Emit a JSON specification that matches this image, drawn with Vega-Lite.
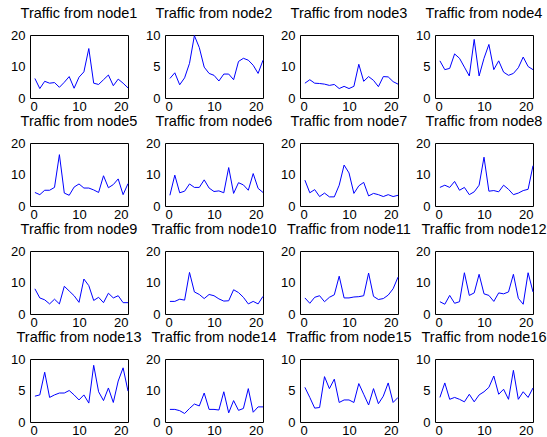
{
  "$schema": "https://vega.github.io/schema/vega-lite/v6.json",
  "background": "white",
  "padding": {"left": 10, "top": 5, "right": 5, "bottom": 0},
  "columns": 4,
  "spacing": {"row": 45, "column": 37},
  "bounds": "flush",
  "data": {"values": [
    {"n":1,"t":1,"v":6.2},{"n":1,"t":2,"v":3.0},{"n":1,"t":3,"v":5.3},{"n":1,"t":4,"v":4.7},{"n":1,"t":5,"v":4.9},{"n":1,"t":6,"v":3.4},{"n":1,"t":7,"v":5.0},{"n":1,"t":8,"v":6.8},{"n":1,"t":9,"v":3.1},{"n":1,"t":10,"v":6.6},{"n":1,"t":11,"v":8.3},{"n":1,"t":12,"v":15.7},{"n":1,"t":13,"v":4.7},{"n":1,"t":14,"v":4.3},{"n":1,"t":15,"v":5.8},{"n":1,"t":16,"v":7.3},{"n":1,"t":17,"v":3.9},{"n":1,"t":18,"v":6.0},{"n":1,"t":19,"v":4.7},{"n":1,"t":20,"v":3.2},
    {"n":2,"t":1,"v":3.1},{"n":2,"t":2,"v":4.0},{"n":2,"t":3,"v":2.1},{"n":2,"t":4,"v":3.2},{"n":2,"t":5,"v":5.5},{"n":2,"t":6,"v":9.9},{"n":2,"t":7,"v":8.0},{"n":2,"t":8,"v":4.9},{"n":2,"t":9,"v":3.9},{"n":2,"t":10,"v":3.6},{"n":2,"t":11,"v":2.7},{"n":2,"t":12,"v":3.8},{"n":2,"t":13,"v":3.8},{"n":2,"t":14,"v":2.9},{"n":2,"t":15,"v":5.8},{"n":2,"t":16,"v":6.3},{"n":2,"t":17,"v":6.0},{"n":2,"t":18,"v":5.2},{"n":2,"t":19,"v":3.9},{"n":2,"t":20,"v":6.0},
    {"n":3,"t":1,"v":4.7},{"n":3,"t":2,"v":5.8},{"n":3,"t":3,"v":4.7},{"n":3,"t":4,"v":4.6},{"n":3,"t":5,"v":4.4},{"n":3,"t":6,"v":4.0},{"n":3,"t":7,"v":4.3},{"n":3,"t":8,"v":3.0},{"n":3,"t":9,"v":3.7},{"n":3,"t":10,"v":3.0},{"n":3,"t":11,"v":3.7},{"n":3,"t":12,"v":10.7},{"n":3,"t":13,"v":5.3},{"n":3,"t":14,"v":6.8},{"n":3,"t":15,"v":5.6},{"n":3,"t":16,"v":3.6},{"n":3,"t":17,"v":6.8},{"n":3,"t":18,"v":6.7},{"n":3,"t":19,"v":5.2},{"n":3,"t":20,"v":4.4},
    {"n":4,"t":1,"v":5.9},{"n":4,"t":2,"v":4.5},{"n":4,"t":3,"v":4.7},{"n":4,"t":4,"v":7.0},{"n":4,"t":5,"v":6.3},{"n":4,"t":6,"v":4.9},{"n":4,"t":7,"v":3.5},{"n":4,"t":8,"v":9.3},{"n":4,"t":9,"v":3.5},{"n":4,"t":10,"v":6.3},{"n":4,"t":11,"v":8.5},{"n":4,"t":12,"v":4.5},{"n":4,"t":13,"v":5.9},{"n":4,"t":14,"v":4.1},{"n":4,"t":15,"v":3.6},{"n":4,"t":16,"v":3.9},{"n":4,"t":17,"v":4.8},{"n":4,"t":18,"v":6.5},{"n":4,"t":19,"v":5.0},{"n":4,"t":20,"v":4.5},
    {"n":5,"t":1,"v":4.3},{"n":5,"t":2,"v":3.6},{"n":5,"t":3,"v":5.0},{"n":5,"t":4,"v":5.0},{"n":5,"t":5,"v":5.9},{"n":5,"t":6,"v":16.3},{"n":5,"t":7,"v":4.1},{"n":5,"t":8,"v":3.4},{"n":5,"t":9,"v":6.0},{"n":5,"t":10,"v":7.0},{"n":5,"t":11,"v":5.7},{"n":5,"t":12,"v":5.7},{"n":5,"t":13,"v":5.1},{"n":5,"t":14,"v":4.3},{"n":5,"t":15,"v":9.6},{"n":5,"t":16,"v":5.8},{"n":5,"t":17,"v":6.8},{"n":5,"t":18,"v":8.6},{"n":5,"t":19,"v":3.6},{"n":5,"t":20,"v":7.1},
    {"n":6,"t":1,"v":3.4},{"n":6,"t":2,"v":9.8},{"n":6,"t":3,"v":4.2},{"n":6,"t":4,"v":4.7},{"n":6,"t":5,"v":7.0},{"n":6,"t":6,"v":5.9},{"n":6,"t":7,"v":5.9},{"n":6,"t":8,"v":8.3},{"n":6,"t":9,"v":5.7},{"n":6,"t":10,"v":4.6},{"n":6,"t":11,"v":4.8},{"n":6,"t":12,"v":4.2},{"n":6,"t":13,"v":12.2},{"n":6,"t":14,"v":4.0},{"n":6,"t":15,"v":7.4},{"n":6,"t":16,"v":6.7},{"n":6,"t":17,"v":5.0},{"n":6,"t":18,"v":10.3},{"n":6,"t":19,"v":5.6},{"n":6,"t":20,"v":4.3},
    {"n":7,"t":1,"v":8.2},{"n":7,"t":2,"v":4.2},{"n":7,"t":3,"v":5.2},{"n":7,"t":4,"v":3.0},{"n":7,"t":5,"v":4.1},{"n":7,"t":6,"v":2.9},{"n":7,"t":7,"v":2.9},{"n":7,"t":8,"v":6.6},{"n":7,"t":9,"v":13.0},{"n":7,"t":10,"v":10.5},{"n":7,"t":11,"v":4.0},{"n":7,"t":12,"v":6.4},{"n":7,"t":13,"v":7.5},{"n":7,"t":14,"v":3.2},{"n":7,"t":15,"v":4.0},{"n":7,"t":16,"v":3.6},{"n":7,"t":17,"v":3.0},{"n":7,"t":18,"v":3.6},{"n":7,"t":19,"v":3.0},{"n":7,"t":20,"v":3.4},
    {"n":8,"t":1,"v":5.9},{"n":8,"t":2,"v":6.6},{"n":8,"t":3,"v":5.9},{"n":8,"t":4,"v":7.8},{"n":8,"t":5,"v":5.0},{"n":8,"t":6,"v":5.9},{"n":8,"t":7,"v":3.6},{"n":8,"t":8,"v":4.5},{"n":8,"t":9,"v":6.6},{"n":8,"t":10,"v":15.5},{"n":8,"t":11,"v":4.7},{"n":8,"t":12,"v":4.9},{"n":8,"t":13,"v":4.5},{"n":8,"t":14,"v":6.6},{"n":8,"t":15,"v":5.3},{"n":8,"t":16,"v":3.6},{"n":8,"t":17,"v":4.1},{"n":8,"t":18,"v":4.9},{"n":8,"t":19,"v":5.3},{"n":8,"t":20,"v":12.8},
    {"n":9,"t":1,"v":8.0},{"n":9,"t":2,"v":5.1},{"n":9,"t":3,"v":4.5},{"n":9,"t":4,"v":3.2},{"n":9,"t":5,"v":4.7},{"n":9,"t":6,"v":3.2},{"n":9,"t":7,"v":8.8},{"n":9,"t":8,"v":7.3},{"n":9,"t":9,"v":5.8},{"n":9,"t":10,"v":3.7},{"n":9,"t":11,"v":11.1},{"n":9,"t":12,"v":9.0},{"n":9,"t":13,"v":4.3},{"n":9,"t":14,"v":5.3},{"n":9,"t":15,"v":3.6},{"n":9,"t":16,"v":6.6},{"n":9,"t":17,"v":5.1},{"n":9,"t":18,"v":5.8},{"n":9,"t":19,"v":3.6},{"n":9,"t":20,"v":3.6},
    {"n":10,"t":1,"v":4.0},{"n":10,"t":2,"v":4.0},{"n":10,"t":3,"v":4.7},{"n":10,"t":4,"v":4.4},{"n":10,"t":5,"v":13.2},{"n":10,"t":6,"v":7.0},{"n":10,"t":7,"v":6.2},{"n":10,"t":8,"v":4.9},{"n":10,"t":9,"v":6.2},{"n":10,"t":10,"v":5.8},{"n":10,"t":11,"v":4.8},{"n":10,"t":12,"v":4.1},{"n":10,"t":13,"v":4.2},{"n":10,"t":14,"v":7.7},{"n":10,"t":15,"v":6.8},{"n":10,"t":16,"v":5.3},{"n":10,"t":17,"v":3.2},{"n":10,"t":18,"v":4.0},{"n":10,"t":19,"v":3.2},{"n":10,"t":20,"v":5.6},
    {"n":11,"t":1,"v":5.1},{"n":11,"t":2,"v":3.4},{"n":11,"t":3,"v":5.3},{"n":11,"t":4,"v":5.8},{"n":11,"t":5,"v":3.9},{"n":11,"t":6,"v":5.3},{"n":11,"t":7,"v":6.1},{"n":11,"t":8,"v":12.0},{"n":11,"t":9,"v":5.1},{"n":11,"t":10,"v":5.1},{"n":11,"t":11,"v":5.4},{"n":11,"t":12,"v":5.5},{"n":11,"t":13,"v":5.8},{"n":11,"t":14,"v":13.0},{"n":11,"t":15,"v":5.6},{"n":11,"t":16,"v":4.6},{"n":11,"t":17,"v":4.9},{"n":11,"t":18,"v":6.0},{"n":11,"t":19,"v":8.0},{"n":11,"t":20,"v":11.7},
    {"n":12,"t":1,"v":3.9},{"n":12,"t":2,"v":3.1},{"n":12,"t":3,"v":5.9},{"n":12,"t":4,"v":3.4},{"n":12,"t":5,"v":3.9},{"n":12,"t":6,"v":13.1},{"n":12,"t":7,"v":5.9},{"n":12,"t":8,"v":6.7},{"n":12,"t":9,"v":12.6},{"n":12,"t":10,"v":6.4},{"n":12,"t":11,"v":5.9},{"n":12,"t":12,"v":4.0},{"n":12,"t":13,"v":6.7},{"n":12,"t":14,"v":6.4},{"n":12,"t":15,"v":7.0},{"n":12,"t":16,"v":12.6},{"n":12,"t":17,"v":5.0},{"n":12,"t":18,"v":3.1},{"n":12,"t":19,"v":13.1},{"n":12,"t":20,"v":7.0},
    {"n":13,"t":1,"v":4.1},{"n":13,"t":2,"v":4.3},{"n":13,"t":3,"v":7.9},{"n":13,"t":4,"v":3.9},{"n":13,"t":5,"v":4.3},{"n":13,"t":6,"v":4.6},{"n":13,"t":7,"v":4.6},{"n":13,"t":8,"v":5.0},{"n":13,"t":9,"v":4.3},{"n":13,"t":10,"v":3.5},{"n":13,"t":11,"v":4.3},{"n":13,"t":12,"v":3.0},{"n":13,"t":13,"v":9.0},{"n":13,"t":14,"v":4.8},{"n":13,"t":15,"v":3.4},{"n":13,"t":16,"v":5.4},{"n":13,"t":17,"v":3.1},{"n":13,"t":18,"v":6.5},{"n":13,"t":19,"v":8.6},{"n":13,"t":20,"v":4.9},
    {"n":14,"t":1,"v":4.0},{"n":14,"t":2,"v":4.0},{"n":14,"t":3,"v":3.6},{"n":14,"t":4,"v":2.7},{"n":14,"t":5,"v":4.3},{"n":14,"t":6,"v":5.7},{"n":14,"t":7,"v":5.1},{"n":14,"t":8,"v":9.2},{"n":14,"t":9,"v":4.0},{"n":14,"t":10,"v":4.0},{"n":14,"t":11,"v":3.8},{"n":14,"t":12,"v":9.6},{"n":14,"t":13,"v":2.9},{"n":14,"t":14,"v":6.8},{"n":14,"t":15,"v":3.7},{"n":14,"t":16,"v":4.3},{"n":14,"t":17,"v":10.6},{"n":14,"t":18,"v":3.1},{"n":14,"t":19,"v":4.8},{"n":14,"t":20,"v":4.8},
    {"n":15,"t":1,"v":5.5},{"n":15,"t":2,"v":3.9},{"n":15,"t":3,"v":2.2},{"n":15,"t":4,"v":2.3},{"n":15,"t":5,"v":7.2},{"n":15,"t":6,"v":5.3},{"n":15,"t":7,"v":6.8},{"n":15,"t":8,"v":3.1},{"n":15,"t":9,"v":3.5},{"n":15,"t":10,"v":3.5},{"n":15,"t":11,"v":3.1},{"n":15,"t":12,"v":6.1},{"n":15,"t":13,"v":4.4},{"n":15,"t":14,"v":2.7},{"n":15,"t":15,"v":5.3},{"n":15,"t":16,"v":2.9},{"n":15,"t":17,"v":4.1},{"n":15,"t":18,"v":6.2},{"n":15,"t":19,"v":3.1},{"n":15,"t":20,"v":3.9},
    {"n":16,"t":1,"v":3.9},{"n":16,"t":2,"v":6.2},{"n":16,"t":3,"v":3.6},{"n":16,"t":4,"v":3.9},{"n":16,"t":5,"v":3.6},{"n":16,"t":6,"v":3.2},{"n":16,"t":7,"v":4.4},{"n":16,"t":8,"v":3.2},{"n":16,"t":9,"v":4.3},{"n":16,"t":10,"v":4.8},{"n":16,"t":11,"v":5.5},{"n":16,"t":12,"v":7.3},{"n":16,"t":13,"v":4.4},{"n":16,"t":14,"v":5.2},{"n":16,"t":15,"v":3.6},{"n":16,"t":16,"v":8.2},{"n":16,"t":17,"v":3.6},{"n":16,"t":18,"v":4.8},{"n":16,"t":19,"v":3.9},{"n":16,"t":20,"v":5.4}
  ]},
  "concat": [
    {"title":"Traffic from node1","transform":[{"filter":"datum.n==1"}],"mark":{"type":"line","color":"#0000ff","strokeWidth":1},"encoding":{"x":{"field":"t","type":"quantitative","title":null,"scale":{"domain":[0,20]},"axis":{"values":[0,10,20]}},"y":{"field":"v","type":"quantitative","title":null,"scale":{"domain":[0,20]},"axis":{"values":[0,10,20]}}}},
    {"title":"Traffic from node2","transform":[{"filter":"datum.n==2"}],"mark":{"type":"line","color":"#0000ff","strokeWidth":1},"encoding":{"x":{"field":"t","type":"quantitative","title":null,"scale":{"domain":[0,20]},"axis":{"values":[0,10,20]}},"y":{"field":"v","type":"quantitative","title":null,"scale":{"domain":[0,10]},"axis":{"values":[0,5,10]}}}},
    {"title":"Traffic from node3","transform":[{"filter":"datum.n==3"}],"mark":{"type":"line","color":"#0000ff","strokeWidth":1},"encoding":{"x":{"field":"t","type":"quantitative","title":null,"scale":{"domain":[0,20]},"axis":{"values":[0,10,20]}},"y":{"field":"v","type":"quantitative","title":null,"scale":{"domain":[0,20]},"axis":{"values":[0,10,20]}}}},
    {"title":"Traffic from node4","transform":[{"filter":"datum.n==4"}],"mark":{"type":"line","color":"#0000ff","strokeWidth":1},"encoding":{"x":{"field":"t","type":"quantitative","title":null,"scale":{"domain":[0,20]},"axis":{"values":[0,10,20]}},"y":{"field":"v","type":"quantitative","title":null,"scale":{"domain":[0,10]},"axis":{"values":[0,5,10]}}}},
    {"title":"Traffic from node5","transform":[{"filter":"datum.n==5"}],"mark":{"type":"line","color":"#0000ff","strokeWidth":1},"encoding":{"x":{"field":"t","type":"quantitative","title":null,"scale":{"domain":[0,20]},"axis":{"values":[0,10,20]}},"y":{"field":"v","type":"quantitative","title":null,"scale":{"domain":[0,20]},"axis":{"values":[0,10,20]}}}},
    {"title":"Traffic from node6","transform":[{"filter":"datum.n==6"}],"mark":{"type":"line","color":"#0000ff","strokeWidth":1},"encoding":{"x":{"field":"t","type":"quantitative","title":null,"scale":{"domain":[0,20]},"axis":{"values":[0,10,20]}},"y":{"field":"v","type":"quantitative","title":null,"scale":{"domain":[0,20]},"axis":{"values":[0,10,20]}}}},
    {"title":"Traffic from node7","transform":[{"filter":"datum.n==7"}],"mark":{"type":"line","color":"#0000ff","strokeWidth":1},"encoding":{"x":{"field":"t","type":"quantitative","title":null,"scale":{"domain":[0,20]},"axis":{"values":[0,10,20]}},"y":{"field":"v","type":"quantitative","title":null,"scale":{"domain":[0,20]},"axis":{"values":[0,10,20]}}}},
    {"title":"Traffic from node8","transform":[{"filter":"datum.n==8"}],"mark":{"type":"line","color":"#0000ff","strokeWidth":1},"encoding":{"x":{"field":"t","type":"quantitative","title":null,"scale":{"domain":[0,20]},"axis":{"values":[0,10,20]}},"y":{"field":"v","type":"quantitative","title":null,"scale":{"domain":[0,20]},"axis":{"values":[0,10,20]}}}},
    {"title":"Traffic from node9","transform":[{"filter":"datum.n==9"}],"mark":{"type":"line","color":"#0000ff","strokeWidth":1},"encoding":{"x":{"field":"t","type":"quantitative","title":null,"scale":{"domain":[0,20]},"axis":{"values":[0,10,20]}},"y":{"field":"v","type":"quantitative","title":null,"scale":{"domain":[0,20]},"axis":{"values":[0,10,20]}}}},
    {"title":"Traffic from node10","transform":[{"filter":"datum.n==10"}],"mark":{"type":"line","color":"#0000ff","strokeWidth":1},"encoding":{"x":{"field":"t","type":"quantitative","title":null,"scale":{"domain":[0,20]},"axis":{"values":[0,10,20]}},"y":{"field":"v","type":"quantitative","title":null,"scale":{"domain":[0,20]},"axis":{"values":[0,10,20]}}}},
    {"title":"Traffic from node11","transform":[{"filter":"datum.n==11"}],"mark":{"type":"line","color":"#0000ff","strokeWidth":1},"encoding":{"x":{"field":"t","type":"quantitative","title":null,"scale":{"domain":[0,20]},"axis":{"values":[0,10,20]}},"y":{"field":"v","type":"quantitative","title":null,"scale":{"domain":[0,20]},"axis":{"values":[0,10,20]}}}},
    {"title":"Traffic from node12","transform":[{"filter":"datum.n==12"}],"mark":{"type":"line","color":"#0000ff","strokeWidth":1},"encoding":{"x":{"field":"t","type":"quantitative","title":null,"scale":{"domain":[0,20]},"axis":{"values":[0,10,20]}},"y":{"field":"v","type":"quantitative","title":null,"scale":{"domain":[0,20]},"axis":{"values":[0,10,20]}}}},
    {"title":"Traffic from node13","transform":[{"filter":"datum.n==13"}],"mark":{"type":"line","color":"#0000ff","strokeWidth":1},"encoding":{"x":{"field":"t","type":"quantitative","title":null,"scale":{"domain":[0,20]},"axis":{"values":[0,10,20]}},"y":{"field":"v","type":"quantitative","title":null,"scale":{"domain":[0,10]},"axis":{"values":[0,5,10]}}}},
    {"title":"Traffic from node14","transform":[{"filter":"datum.n==14"}],"mark":{"type":"line","color":"#0000ff","strokeWidth":1},"encoding":{"x":{"field":"t","type":"quantitative","title":null,"scale":{"domain":[0,20]},"axis":{"values":[0,10,20]}},"y":{"field":"v","type":"quantitative","title":null,"scale":{"domain":[0,20]},"axis":{"values":[0,10,20]}}}},
    {"title":"Traffic from node15","transform":[{"filter":"datum.n==15"}],"mark":{"type":"line","color":"#0000ff","strokeWidth":1},"encoding":{"x":{"field":"t","type":"quantitative","title":null,"scale":{"domain":[0,20]},"axis":{"values":[0,10,20]}},"y":{"field":"v","type":"quantitative","title":null,"scale":{"domain":[0,10]},"axis":{"values":[0,5,10]}}}},
    {"title":"Traffic from node16","transform":[{"filter":"datum.n==16"}],"mark":{"type":"line","color":"#0000ff","strokeWidth":1},"encoding":{"x":{"field":"t","type":"quantitative","title":null,"scale":{"domain":[0,20]},"axis":{"values":[0,10,20]}},"y":{"field":"v","type":"quantitative","title":null,"scale":{"domain":[0,10]},"axis":{"values":[0,5,10]}}}}
  ],
  "config": {
    "view": {"continuousWidth": 98, "continuousHeight": 63, "stroke": "black", "strokeWidth": 1},
    "axis": {"grid": false, "domain": false, "ticks": false, "labelFont": "Liberation Sans", "labelFontSize": 13, "labelColor": "black", "labelPadding": 5},
    "axisX": {"labelPadding": 2},
    "title": {"font": "Liberation Sans", "fontSize": 14.5, "fontWeight": "normal", "color": "black", "offset": 8, "anchor": "middle", "frame": "group"}
  }
}
